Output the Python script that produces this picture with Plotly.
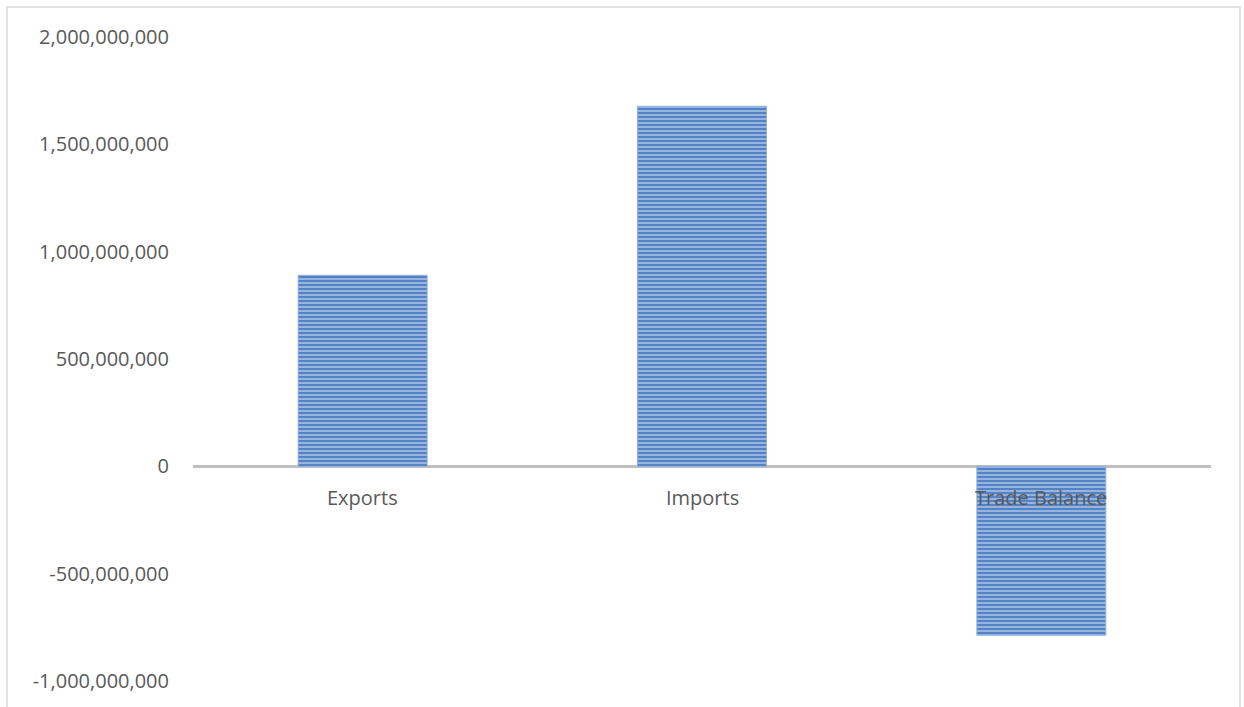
import plotly.graph_objects as go

categories = ["Exports", "Imports", "Trade Balance"]
values = [890_000_000, 1_677_000_000, -787_000_000]
tick_vals = [-1_000_000_000, -500_000_000, 0, 500_000_000, 1_000_000_000, 1_500_000_000, 2_000_000_000]
tick_text = ["-1,000,000,000", "-500,000,000", "0", "500,000,000", "1,000,000,000", "1,500,000,000", "2,000,000,000"]

W, H = 1244, 707
L, R, T, B = 193, 33, 37, 26
pw, ph = W - L - R, H - T - B

fig = go.Figure()
fig.add_trace(go.Bar(
    x=categories, y=values,
    marker=dict(
        color="#5383c4",
        line=dict(color="#8eaedc", width=1),
        pattern=dict(shape="-", fgcolor="#dce6f3", bgcolor="#5383c4", size=4, solidity=0.5),
    ),
    showlegend=False,
))

for c in categories:
    fig.add_annotation(x=c, y=0, xref="x", yref="y", text=c, showarrow=False,
                       yanchor="middle", yshift=-31, font=dict(size=20, color="#595959"))

fig.add_shape(type="rect", xref="paper", yref="paper",
              x0=(7 - L) / pw, x1=(1240 - L) / pw,
              y0=(H - B - 740) / ph, y1=(H - B - 7) / ph,
              line=dict(color="#d9d9d9", width=1.5), fillcolor="rgba(0,0,0,0)", layer="below")

fig.update_layout(
    width=W, height=H,
    margin=dict(l=L, r=R, t=T, b=B),
    paper_bgcolor="white", plot_bgcolor="white",
    bargap=0.62,
    font=dict(family="Open Sans", size=20, color="#595959"),
    xaxis=dict(showticklabels=False, showgrid=False, zeroline=False, showline=False),
    yaxis=dict(range=[-1_000_000_000, 2_000_000_000], tickvals=tick_vals, ticktext=tick_text,
               showgrid=False, zeroline=True, zerolinecolor="#bfbfbf", zerolinewidth=3,
               showline=False, ticklabelstandoff=23),
)

fig.write_html("out.html", config={"displayModeBar": False})

with open("out.html", "r", encoding="utf-8") as f:
    html = f.read()
html = html.replace("<body>", '<body style="margin:0;overflow:hidden">', 1)
with open("out.html", "w", encoding="utf-8") as f:
    f.write(html)
